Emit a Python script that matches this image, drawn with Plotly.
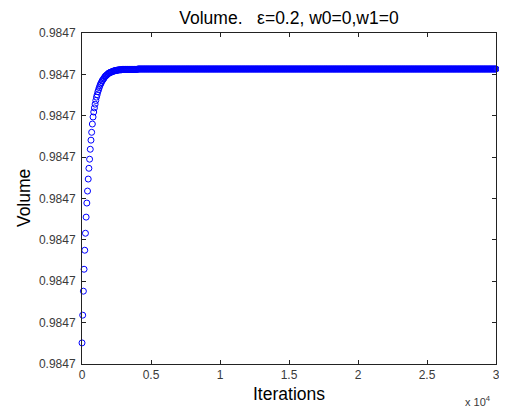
import plotly.graph_objects as go

# Iterations sampled every 50 steps (0 .. 30000)
iterations = list(range(0, 30001, 50))

# Volume, as offsets from 0.9847 in units of 1e-6
base_volume = 0.9847
offset_transient = [
    0.51, 1.18, 1.76, 2.29, 2.75, 3.16, 3.55, 3.89, 4.18, 4.47,
    4.73, 4.95, 5.19, 5.41, 5.60, 5.80, 5.97, 6.09, 6.19, 6.28,
    6.37, 6.45, 6.51, 6.58, 6.63, 6.68, 6.73, 6.77, 6.80, 6.84,
    6.86, 6.89, 6.91, 6.94, 6.96, 6.97, 6.99, 7.00, 7.02, 7.03,
    7.04, 7.05, 7.05, 7.06, 7.07, 7.07, 7.08, 7.09, 7.09, 7.09,
    7.10, 7.10, 7.10, 7.11, 7.11, 7.11, 7.11, 7.11, 7.12, 7.12,
    7.12, 7.12, 7.12, 7.12, 7.12, 7.12, 7.12, 7.12, 7.12, 7.12,
    7.12, 7.12, 7.12, 7.12, 7.12, 7.12, 7.12, 7.12, 7.12, 7.12,
    7.12,
]
offset_plateau = [
    7.13, 7.13, 7.13, 7.13, 7.13, 7.13, 7.13, 7.13, 7.13, 7.13, 7.13, 7.13, 7.13, 7.13, 7.13, 7.13, 7.13, 7.13, 7.13, 7.13,
    7.13, 7.13, 7.13, 7.13, 7.13, 7.13, 7.13, 7.13, 7.13, 7.13, 7.13, 7.13, 7.13, 7.13, 7.13, 7.13, 7.13, 7.13, 7.13, 7.13,
    7.13, 7.13, 7.13, 7.13, 7.13, 7.13, 7.13, 7.13, 7.13, 7.13, 7.13, 7.13, 7.13, 7.13, 7.13, 7.13, 7.13, 7.13, 7.13, 7.13,
    7.13, 7.13, 7.13, 7.13, 7.13, 7.13, 7.13, 7.13, 7.13, 7.13, 7.13, 7.13, 7.13, 7.13, 7.13, 7.13, 7.13, 7.13, 7.13, 7.13,
    7.13, 7.13, 7.13, 7.13, 7.13, 7.13, 7.13, 7.13, 7.13, 7.13, 7.13, 7.13, 7.13, 7.13, 7.13, 7.13, 7.13, 7.13, 7.13, 7.13,
    7.13, 7.13, 7.13, 7.13, 7.13, 7.13, 7.13, 7.13, 7.13, 7.13, 7.13, 7.13, 7.13, 7.13, 7.13, 7.13, 7.13, 7.13, 7.13, 7.13,
    7.13, 7.13, 7.13, 7.13, 7.13, 7.13, 7.13, 7.13, 7.13, 7.13, 7.13, 7.13, 7.13, 7.13, 7.13, 7.13, 7.13, 7.13, 7.13, 7.13,
    7.13, 7.13, 7.13, 7.13, 7.13, 7.13, 7.13, 7.13, 7.13, 7.13, 7.13, 7.13, 7.13, 7.13, 7.13, 7.13, 7.13, 7.13, 7.13, 7.13,
    7.13, 7.13, 7.13, 7.13, 7.13, 7.13, 7.13, 7.13, 7.13, 7.13, 7.13, 7.13, 7.13, 7.13, 7.13, 7.13, 7.13, 7.13, 7.13, 7.13,
    7.13, 7.13, 7.13, 7.13, 7.13, 7.13, 7.13, 7.13, 7.13, 7.13, 7.13, 7.13, 7.13, 7.13, 7.13, 7.13, 7.13, 7.13, 7.13, 7.13,
    7.13, 7.13, 7.13, 7.13, 7.13, 7.13, 7.13, 7.13, 7.13, 7.13, 7.13, 7.13, 7.13, 7.13, 7.13, 7.13, 7.13, 7.13, 7.13, 7.13,
    7.13, 7.13, 7.13, 7.13, 7.13, 7.13, 7.13, 7.13, 7.13, 7.13, 7.13, 7.13, 7.13, 7.13, 7.13, 7.13, 7.13, 7.13, 7.13, 7.13,
    7.13, 7.13, 7.13, 7.13, 7.13, 7.13, 7.13, 7.13, 7.13, 7.13, 7.13, 7.13, 7.13, 7.13, 7.13, 7.13, 7.13, 7.13, 7.13, 7.13,
    7.13, 7.13, 7.13, 7.13, 7.13, 7.13, 7.13, 7.13, 7.13, 7.13, 7.13, 7.13, 7.13, 7.13, 7.13, 7.13, 7.13, 7.13, 7.13, 7.13,
    7.13, 7.13, 7.13, 7.13, 7.13, 7.13, 7.13, 7.13, 7.13, 7.13, 7.13, 7.13, 7.13, 7.13, 7.13, 7.13, 7.13, 7.13, 7.13, 7.13,
    7.13, 7.13, 7.13, 7.13, 7.13, 7.13, 7.13, 7.13, 7.13, 7.13, 7.13, 7.13, 7.13, 7.13, 7.13, 7.13, 7.13, 7.13, 7.13, 7.13,
    7.13, 7.13, 7.13, 7.13, 7.13, 7.13, 7.13, 7.13, 7.13, 7.13, 7.13, 7.13, 7.13, 7.13, 7.13, 7.13, 7.13, 7.13, 7.13, 7.13,
    7.13, 7.13, 7.13, 7.13, 7.13, 7.13, 7.13, 7.13, 7.13, 7.13, 7.13, 7.13, 7.13, 7.13, 7.13, 7.13, 7.13, 7.13, 7.13, 7.13,
    7.13, 7.13, 7.13, 7.13, 7.13, 7.13, 7.13, 7.13, 7.13, 7.13, 7.13, 7.13, 7.13, 7.13, 7.13, 7.13, 7.13, 7.13, 7.13, 7.13,
    7.13, 7.13, 7.13, 7.13, 7.13, 7.13, 7.13, 7.13, 7.13, 7.13, 7.13, 7.13, 7.13, 7.13, 7.13, 7.13, 7.13, 7.13, 7.13, 7.13,
    7.13, 7.13, 7.13, 7.13, 7.13, 7.13, 7.13, 7.13, 7.13, 7.13, 7.13, 7.13, 7.13, 7.13, 7.13, 7.13, 7.13, 7.13, 7.13, 7.13,
    7.13, 7.13, 7.13, 7.13, 7.13, 7.13, 7.13, 7.13, 7.13, 7.13, 7.13, 7.13, 7.13, 7.13, 7.13, 7.13, 7.13, 7.13, 7.13, 7.13,
    7.13, 7.13, 7.13, 7.13, 7.13, 7.13, 7.13, 7.13, 7.13, 7.13, 7.13, 7.13, 7.13, 7.13, 7.13, 7.13, 7.13, 7.13, 7.13, 7.13,
    7.13, 7.13, 7.13, 7.13, 7.13, 7.13, 7.13, 7.13, 7.13, 7.13, 7.13, 7.13, 7.13, 7.13, 7.13, 7.13, 7.13, 7.13, 7.13, 7.13,
    7.13, 7.13, 7.13, 7.13, 7.13, 7.13, 7.13, 7.13, 7.13, 7.13, 7.13, 7.13, 7.13, 7.13, 7.13, 7.13, 7.13, 7.13, 7.13, 7.13,
    7.13, 7.13, 7.13, 7.13, 7.13, 7.13, 7.13, 7.13, 7.13, 7.13, 7.13, 7.13, 7.13, 7.13, 7.13, 7.13, 7.13, 7.13, 7.13, 7.13,
]
volume = [base_volume + v * 1e-6 for v in offset_transient + offset_plateau]

x_tick_vals = [0, 5000, 10000, 15000, 20000, 25000, 30000]
x_tick_text = ["0", "0.5", "1", "1.5", "2", "2.5", "3"]
y_tick_vals = [base_volume + k * 1e-6 for k in range(9)]

FONT = "Arial, Liberation Sans, sans-serif"
TICK_COLOR = "#3a3a3a"

# The page body has an 8px default margin, so the figure is sized to fit
PAGE_OFFSET = 8
FIG_W, FIG_H = 507 - PAGE_OFFSET, 412 - PAGE_OFFSET
M_L, M_R, M_T, M_B = 74, 7, 25, 48
PLOT_W = FIG_W - M_L - M_R
PLOT_H = FIG_H - M_T - M_B

fig = go.Figure()
fig.add_trace(go.Scatter(
    x=iterations[:len(volume)], y=volume,
    mode="markers",
    marker=dict(symbol="circle-open", size=6, color="#0000ff",
                line=dict(width=1, color="#0000ff")),
    cliponaxis=False,
    showlegend=False,
))

axis_common = dict(
    showline=True, linecolor="#222222", linewidth=1, mirror="ticks",
    ticks="inside", ticklen=4, tickcolor="#222222", tickwidth=1,
    showgrid=False, zeroline=False,
    tickfont=dict(family=FONT, size=12, color=TICK_COLOR),
)

fig.update_xaxes(range=[0, 30000], tickvals=x_tick_vals, ticktext=x_tick_text,
                 ticklabelstandoff=0, **axis_common)
fig.update_yaxes(range=[base_volume, base_volume + 8e-6], tickvals=y_tick_vals,
                 tickformat=".4f", ticklabelstandoff=3, **axis_common)

fig.update_layout(
    width=FIG_W, height=FIG_H,
    margin=dict(l=M_L, r=M_R, t=M_T, b=M_B),
    paper_bgcolor="white", plot_bgcolor="white",
    font=dict(family=FONT, color="black"),
    title=dict(text="Volume.   \u03b5=0.2, w0=0,w1=0", x=0.5, xref="paper",
               y=1 - 10 / FIG_H, yref="container", yanchor="middle",
               font=dict(family=FONT, size=17.5, color="black")),
    annotations=[
        dict(text="Iterations", xref="paper", yref="paper", x=0.5, y=-30 / PLOT_H,
             xanchor="center", yanchor="middle", showarrow=False,
             font=dict(family=FONT, size=17.5, color="black")),
        dict(text="Volume", xref="paper", yref="paper", x=-59 / PLOT_W, y=0.5,
             xanchor="center", yanchor="middle", showarrow=False, textangle=-90,
             font=dict(family=FONT, size=17.5, color="black")),
        dict(text="x 10<sup>4</sup>", xref="paper", yref="paper", x=(482 - 82) / PLOT_W,
             y=-37 / PLOT_H, xanchor="center", yanchor="middle", showarrow=False,
             font=dict(family=FONT, size=11, color=TICK_COLOR)),
    ],
)

fig.write_html("out.html")
